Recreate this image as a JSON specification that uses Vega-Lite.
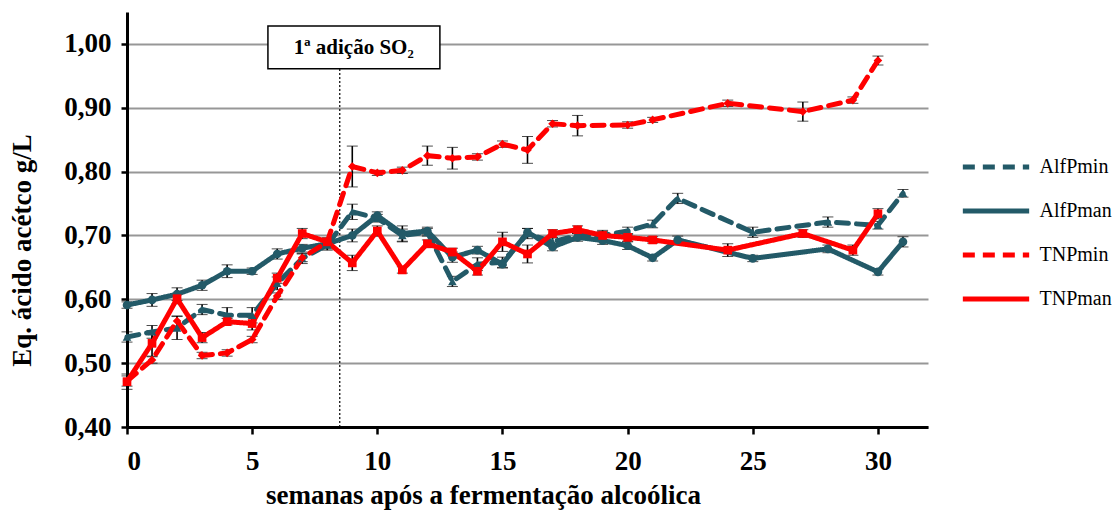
{
  "$schema": "https://vega.github.io/schema/vega-lite/v6.json",
  "width": 801,
  "height": 415,
  "autosize": {"type": "none"},
  "padding": {"left": 127, "top": 12, "right": 190, "bottom": 83},
  "background": "white",
  "config": {"font": "Liberation Serif", "view": {"stroke": null}},
  "datasets": {
    "main": [
      {"s":"AlfPmin","w":0,"v":0.541,"e":0.008},{"s":"AlfPmin","w":1,"v":0.549,"e":0.01},{"s":"AlfPmin","w":2,"v":0.555,"e":0.018},{"s":"AlfPmin","w":3,"v":0.584,"e":0.008},{"s":"AlfPmin","w":4,"v":0.575,"e":0.012},{"s":"AlfPmin","w":5,"v":0.575,"e":0.012},{"s":"AlfPmin","w":6,"v":0.625,"e":0.01},{"s":"AlfPmin","w":7,"v":0.664,"e":0.008},{"s":"AlfPmin","w":8,"v":0.685,"e":0.008},{"s":"AlfPmin","w":9,"v":0.737,"e":0.012},{"s":"AlfPmin","w":10,"v":0.727,"e":0.006},{"s":"AlfPmin","w":11,"v":0.7,"e":0.01},{"s":"AlfPmin","w":12,"v":0.705,"e":0.006},{"s":"AlfPmin","w":13,"v":0.628,"e":0.008},{"s":"AlfPmin","w":14,"v":0.655,"e":0.01},{"s":"AlfPmin","w":15,"v":0.658,"e":0.008},{"s":"AlfPmin","w":16,"v":0.703,"e":0.008},{"s":"AlfPmin","w":17,"v":0.69,"e":0.006},{"s":"AlfPmin","w":18,"v":0.7,"e":0.006},{"s":"AlfPmin","w":19,"v":0.7,"e":0.006},{"s":"AlfPmin","w":20,"v":0.707,"e":0.006},{"s":"AlfPmin","w":21,"v":0.718,"e":0.006},{"s":"AlfPmin","w":22,"v":0.758,"e":0.008},{"s":"AlfPmin","w":25,"v":0.705,"e":0.008},{"s":"AlfPmin","w":28,"v":0.721,"e":0.008},{"s":"AlfPmin","w":30,"v":0.716,"e":0.006},{"s":"AlfPmin","w":31,"v":0.766,"e":0.006},
      {"s":"AlfPman","w":0,"v":0.591,"e":0.005},{"s":"AlfPman","w":1,"v":0.599,"e":0.01},{"s":"AlfPman","w":2,"v":0.608,"e":0.01},{"s":"AlfPman","w":3,"v":0.622,"e":0.008},{"s":"AlfPman","w":4,"v":0.644,"e":0.01},{"s":"AlfPman","w":5,"v":0.644,"e":0.005},{"s":"AlfPman","w":6,"v":0.671,"e":0.008},{"s":"AlfPman","w":7,"v":0.68,"e":0.006},{"s":"AlfPman","w":8,"v":0.687,"e":0.008},{"s":"AlfPman","w":9,"v":0.7,"e":0.01},{"s":"AlfPman","w":10,"v":0.731,"e":0.006},{"s":"AlfPman","w":11,"v":0.703,"e":0.012},{"s":"AlfPman","w":12,"v":0.707,"e":0.006},{"s":"AlfPman","w":13,"v":0.666,"e":0.008},{"s":"AlfPman","w":14,"v":0.677,"e":0.006},{"s":"AlfPman","w":15,"v":0.655,"e":0.006},{"s":"AlfPman","w":16,"v":0.705,"e":0.006},{"s":"AlfPman","w":17,"v":0.682,"e":0.006},{"s":"AlfPman","w":18,"v":0.697,"e":0.006},{"s":"AlfPman","w":19,"v":0.692,"e":0.006},{"s":"AlfPman","w":20,"v":0.684,"e":0.006},{"s":"AlfPman","w":21,"v":0.665,"e":0.005},{"s":"AlfPman","w":22,"v":0.693,"e":0.006},{"s":"AlfPman","w":25,"v":0.664,"e":0.005},{"s":"AlfPman","w":28,"v":0.679,"e":0.006},{"s":"AlfPman","w":30,"v":0.643,"e":0.005},{"s":"AlfPman","w":31,"v":0.69,"e":0.008},
      {"s":"TNPmin","w":0,"v":0.472,"e":0.008},{"s":"TNPmin","w":1,"v":0.505,"e":0.005},{"s":"TNPmin","w":2,"v":0.566,"e":0.008},{"s":"TNPmin","w":3,"v":0.512,"e":0.005},{"s":"TNPmin","w":4,"v":0.516,"e":0.005},{"s":"TNPmin","w":5,"v":0.537,"e":0.005},{"s":"TNPmin","w":6,"v":0.605,"e":0.005},{"s":"TNPmin","w":7,"v":0.665,"e":0.006},{"s":"TNPmin","w":8,"v":0.69,"e":0.006},{"s":"TNPmin","w":9,"v":0.808,"e":0.032},{"s":"TNPmin","w":10,"v":0.798,"e":0.004},{"s":"TNPmin","w":11,"v":0.802,"e":0.005},{"s":"TNPmin","w":12,"v":0.825,"e":0.015},{"s":"TNPmin","w":13,"v":0.821,"e":0.017},{"s":"TNPmin","w":14,"v":0.823,"e":0.005},{"s":"TNPmin","w":15,"v":0.843,"e":0.005},{"s":"TNPmin","w":16,"v":0.834,"e":0.021},{"s":"TNPmin","w":17,"v":0.875,"e":0.005},{"s":"TNPmin","w":18,"v":0.872,"e":0.016},{"s":"TNPmin","w":20,"v":0.873,"e":0.005},{"s":"TNPmin","w":21,"v":0.881,"e":0.004},{"s":"TNPmin","w":24,"v":0.907,"e":0.005},{"s":"TNPmin","w":27,"v":0.894,"e":0.015},{"s":"TNPmin","w":29,"v":0.912,"e":0.005},{"s":"TNPmin","w":30,"v":0.974,"e":0.007},
      {"s":"TNPman","w":0,"v":0.471,"e":0.012},{"s":"TNPman","w":1,"v":0.531,"e":0.02},{"s":"TNPman","w":2,"v":0.601,"e":0.008},{"s":"TNPman","w":3,"v":0.54,"e":0.008},{"s":"TNPman","w":4,"v":0.565,"e":0.005},{"s":"TNPman","w":5,"v":0.562,"e":0.01},{"s":"TNPman","w":6,"v":0.633,"e":0.008},{"s":"TNPman","w":7,"v":0.703,"e":0.008},{"s":"TNPman","w":8,"v":0.69,"e":0.006},{"s":"TNPman","w":9,"v":0.657,"e":0.012},{"s":"TNPman","w":10,"v":0.707,"e":0.008},{"s":"TNPman","w":11,"v":0.646,"e":0.005},{"s":"TNPman","w":12,"v":0.687,"e":0.006},{"s":"TNPman","w":13,"v":0.674,"e":0.006},{"s":"TNPman","w":14,"v":0.644,"e":0.006},{"s":"TNPman","w":15,"v":0.69,"e":0.015},{"s":"TNPman","w":16,"v":0.671,"e":0.014},{"s":"TNPman","w":17,"v":0.703,"e":0.006},{"s":"TNPman","w":18,"v":0.709,"e":0.006},{"s":"TNPman","w":19,"v":0.7,"e":0.008},{"s":"TNPman","w":20,"v":0.697,"e":0.006},{"s":"TNPman","w":21,"v":0.693,"e":0.005},{"s":"TNPman","w":24,"v":0.677,"e":0.01},{"s":"TNPman","w":27,"v":0.703,"e":0.006},{"s":"TNPman","w":29,"v":0.677,"e":0.008},{"s":"TNPman","w":30,"v":0.734,"e":0.008}
    ]
  },
  "encoding": {
    "x": {"field": "w", "type": "quantitative", "scale": {"domain": [0, 32], "nice": false, "zero": false},
      "axis": {"values": [0,5,10,15,20,25,30], "grid": false, "domainColor": "black", "domainWidth": 3, "tickColor": "black", "tickWidth": 2.5, "tickSize": 7, "labelPadding": 14, "labelFont": "Liberation Serif", "labelFontWeight": "bold", "labelFontSize": 27, "labelColor": "black",
        "title": "semanas após a fermentação alcoólica", "titleFont": "Liberation Serif", "titleFontSize": 27, "titleFontWeight": "bold", "titleColor": "black", "titleX": 356, "titleY": 68, "titleBaseline": "middle", "titleAlign": "center"}},
    "y": {"field": "v", "type": "quantitative", "scale": {"domain": [0.4, 1.05], "nice": false, "zero": false},
      "axis": {"values": [0.4,0.5,0.6,0.7,0.8,0.9,1.0], "grid": true, "gridColor": "#979797", "gridWidth": 2, "domainColor": "black", "domainWidth": 3, "tickColor": "black", "tickWidth": 2.5, "tickSize": 6, "labelPadding": 10, "labelFont": "Liberation Serif", "labelFontWeight": "bold", "labelFontSize": 27, "labelColor": "black",
        "labelExpr": "replace(format(datum.value, '.2f'), '.', ',')",
        "title": "Eq. ácido acétco g/L", "titleFont": "Liberation Serif", "titleFontSize": 27, "titleFontWeight": "bold", "titleColor": "black", "titleX": -105, "titleY": 238, "titleAngle": 270, "titleBaseline": "middle", "titleAlign": "center"}}
  },
  "layer": [
    {
      "data": {"values": [{"w": 8.5, "v": 0.4, "v2": 0.961}]},
      "mark": {"type": "rule", "color": "black", "strokeWidth": 1.2, "strokeDash": [2, 2]},
      "encoding": {"y2": {"field": "v2"}}
    },
    {
      "data": {"values": [{"w": 5.63, "w2": 12.5, "v": 0.961, "v2": 1.028}]},
      "mark": {"type": "rect", "fill": "white", "stroke": "black", "strokeWidth": 1.5},
      "encoding": {"x2": {"field": "w2"}, "y2": {"field": "v2"}}
    },
    {
      "data": {"values": [{"w": 9.06, "v": 0.994, "t": "1ª adição SO₂"}]},
      "mark": {"type": "text", "font": "Liberation Serif", "fontWeight": "bold", "fontSize": 21, "color": "black", "align": "center", "baseline": "middle"},
      "encoding": {"text": {"field": "t"}}
    },
    {
      "data": {"name": "main"},
      "mark": {"type": "errorbar", "ticks": {"size": 11, "color": "black", "strokeWidth": 1.6}, "rule": {"color": "black", "strokeWidth": 1.6}},
      "encoding": {"yError": {"field": "e"}, "detail": {"field": "s"}}
    },
    {
      "data": {"name": "main"},
      "mark": {"type": "line", "strokeWidth": 5, "strokeCap": "round"},
      "encoding": {
        "color": {"field": "s", "type": "nominal",
          "scale": {"domain": ["AlfPmin", "AlfPman", "TNPmin", "TNPman"], "range": ["#235a68", "#235a68", "#ff0000", "#ff0000"]},
          "legend": {"title": null, "orient": "none", "legendX": 849.5, "legendY": 135.5, "symbolType": "M-2,0H2", "symbolSize": 1100, "symbolStrokeWidth": 5, "symbolFillColor": "transparent", "labelFont": "Liberation Serif", "labelFontSize": 20, "labelColor": "black", "labelOffset": 24, "rowPadding": 14}},
        "strokeDash": {"field": "s", "type": "nominal",
          "scale": {"domain": ["AlfPmin", "AlfPman", "TNPmin", "TNPman"], "range": [[12, 8], [1, 0], [12, 8], [1, 0]]},
          "legend": {"title": null, "orient": "none", "legendX": 849.5, "legendY": 135.5, "symbolType": "M-2,0H2", "symbolSize": 1100, "symbolStrokeWidth": 5, "symbolFillColor": "transparent", "labelFont": "Liberation Serif", "labelFontSize": 20, "labelColor": "black", "labelOffset": 24, "rowPadding": 14}},
        "order": {"field": "w", "type": "quantitative"}
      }
    },
    {
      "data": {"name": "main"},
      "transform": [{"filter": "datum.s == 'AlfPmin'"}],
      "mark": {"type": "point", "filled": true, "size": 75, "opacity": 1, "shape": "triangle-up", "color": "#235a68"}
    },
    {
      "data": {"name": "main"},
      "transform": [{"filter": "datum.s == 'AlfPman'"}],
      "mark": {"type": "point", "filled": true, "size": 75, "opacity": 1, "shape": "circle", "color": "#235a68"}
    },
    {
      "data": {"name": "main"},
      "transform": [{"filter": "datum.s == 'TNPmin'"}],
      "mark": {"type": "point", "filled": true, "size": 75, "opacity": 1, "shape": "diamond", "color": "#ff0000"}
    },
    {
      "data": {"name": "main"},
      "transform": [{"filter": "datum.s == 'TNPman'"}],
      "mark": {"type": "point", "filled": true, "size": 75, "opacity": 1, "shape": "square", "color": "#ff0000"}
    }
  ]
}
